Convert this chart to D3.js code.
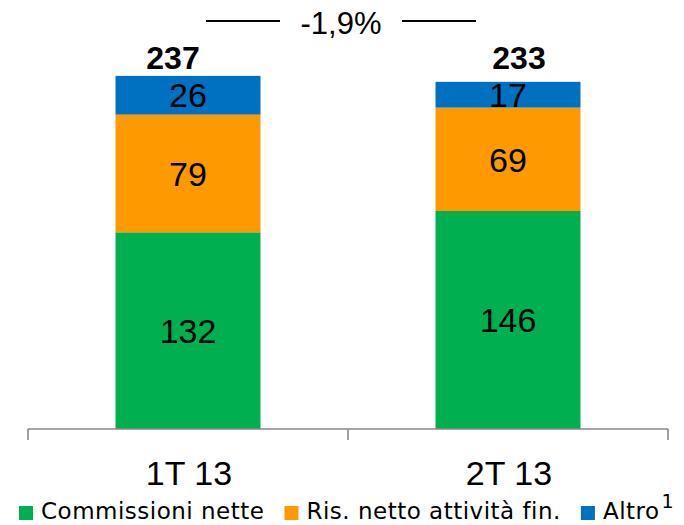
<!DOCTYPE html>
<html>
<head>
<meta charset="utf-8">
<script src="https://cdn.jsdelivr.net/npm/d3@7"></script>
<style>
    body { margin: 0; background: #fff; }
    svg { display: block; }
</style>
</head>
<body>
<svg></svg>
<script>
// chart data
const quarters = ["1T 13", "2T 13"];
const seriesNames = ["Commissioni nette", "Ris. netto attività fin.", "Altro"];
const commissioni = [132, 146.3];
const risNetto = [79, 69.4];
const altro = [26, 17.3];
const changeLabel = "-1,9%";

const colors = ["#00B050", "#FF9900", "#0070C0"];

const width = 684;
const height = 525;
const numFont = "'Liberation Sans', Arial, sans-serif";
const textFont = "'DejaVu Sans', sans-serif";

const svg = d3.select("svg").attr("width", width).attr("height", height);

// stack the three series per quarter
const rows = quarters.map((q, i) => ({
    quarter: q,
    "Commissioni nette": commissioni[i],
    "Ris. netto attività fin.": risNetto[i],
    "Altro": altro[i],
}));
const stacked = d3.stack().keys(seriesNames)(rows);
const totals = rows.map((r) => d3.sum(seriesNames, (k) => r[k]));

// scales
const xScale = d3.scaleBand().domain(quarters).range([28, 668]).padding(0);
const barWidth = xScale.bandwidth() * 0.453;
const yScale = d3.scaleLinear().domain([0, 250]).range([429, 56.5]);
const barX = (q) => xScale(q) + (xScale.bandwidth() - barWidth) / 2;
const midX = (q) => xScale(q) + xScale.bandwidth() / 2;

// bars
const layers = svg.append("g")
    .selectAll("g")
    .data(stacked)
    .join("g")
    .attr("fill", (d, i) => colors[i]);

layers.selectAll("rect")
    .data((d) => d)
    .join("rect")
    .attr("x", (d) => barX(d.data.quarter))
    .attr("y", (d) => yScale(d[1]))
    .attr("width", barWidth)
    .attr("height", (d) => yScale(d[0]) - yScale(d[1]));

// segment labels
layers.selectAll("text")
    .data((d) => d)
    .join("text")
    .attr("x", (d) => midX(d.data.quarter))
    .attr("y", (d) => (yScale(d[0]) + yScale(d[1])) / 2)
    .attr("dy", "0.36em")
    .attr("text-anchor", "middle")
    .attr("fill", "#000")
    .style("font-family", numFont)
    .style("font-size", "34px")
    .text((d) => d3.format(".0f")(d[1] - d[0]));

// totals above the bars
const totalShift = [-15, 11];
svg.append("g")
    .selectAll("text")
    .data(quarters)
    .join("text")
    .attr("x", (q, i) => midX(q) + totalShift[i])
    .attr("y", yScale(d3.max(totals)) - 7)
    .attr("text-anchor", "middle")
    .style("font-family", numFont)
    .style("font-size", "32px")
    .style("font-weight", "bold")
    .text((q, i) => d3.format(".0f")(totals[i]));

// x axis: line with ticks at band edges
const axis = svg.append("g").attr("stroke", "#888").attr("stroke-width", 1.6);
axis.append("line")
    .attr("x1", xScale.range()[0])
    .attr("x2", xScale.range()[1])
    .attr("y1", yScale(0))
    .attr("y2", yScale(0));
const edges = quarters.map((q) => xScale(q)).concat([xScale.range()[1]]);
axis.selectAll(".tick")
    .data(edges)
    .join("line")
    .attr("class", "tick")
    .attr("x1", (d) => d)
    .attr("x2", (d) => d)
    .attr("y1", yScale(0))
    .attr("y2", yScale(0) + 11);

svg.append("g")
    .selectAll("text")
    .data(quarters)
    .join("text")
    .attr("x", (q) => midX(q) + 1)
    .attr("y", 485)
    .attr("text-anchor", "middle")
    .style("font-family", numFont)
    .style("font-size", "34px")
    .text((q) => q);

// change annotation
const annX = (midX(quarters[0]) + midX(quarters[1])) / 2 - 7;
const ann = svg.append("g");
ann.append("text")
    .attr("x", annX)
    .attr("y", 34)
    .attr("text-anchor", "middle")
    .style("font-family", numFont)
    .style("font-size", "31px")
    .text(changeLabel);
ann.selectAll("line")
    .data([-1, 1])
    .join("line")
    .attr("x1", (s) => annX + s * 61)
    .attr("x2", (s) => annX + s * 135)
    .attr("y1", 21)
    .attr("y2", 21)
    .attr("stroke", "#000")
    .attr("stroke-width", 2);

// legend
const legend = svg.append("g");
let lx = 19;
seriesNames.forEach((name, i) => {
    legend.append("rect")
        .attr("x", lx)
        .attr("y", 506)
        .attr("width", 14)
        .attr("height", 14)
        .attr("fill", colors[i]);
    const t = legend.append("text")
        .attr("x", lx + 22)
        .attr("y", 519)
        .style("font-family", textFont)
        .style("font-size", "23px")
        .style("letter-spacing", "0.5px")
        .text(name);
    const w = t.node().getBBox().width;
    if (name === "Altro") {
        legend.append("text")
            .attr("x", lx + 22 + w + 2)
            .attr("y", 508)
            .style("font-family", textFont)
            .style("font-size", "19px")
            .text("1");
    }
    lx = lx + 22 + w + 20;
});
</script>
</body>
</html>
